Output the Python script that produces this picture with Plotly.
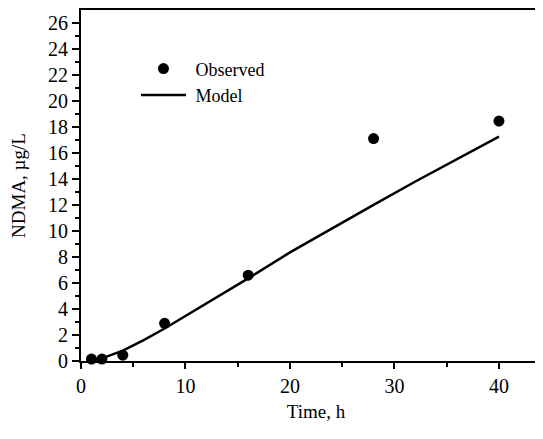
import plotly.graph_objects as go

obs_time = [1, 2, 4, 8, 16, 28, 40]
obs_ndma = [0.15, 0.15, 0.45, 2.9, 6.6, 17.1, 18.45]

model_time = [1, 2, 4, 6, 8, 10, 12, 14, 16, 20, 24, 28, 32, 36, 40]
model_ndma = [0.05, 0.2, 0.8, 1.6, 2.5, 3.45, 4.4, 5.35, 6.35, 8.35, 10.2, 12.0, 13.8, 15.5, 17.25]

y_ticks = list(range(0, 27, 2))
x_ticks = [0, 10, 20, 30, 40]

FONT = "Liberation Serif"

fig = go.Figure()
fig.add_trace(go.Scatter(
    x=obs_time, y=obs_ndma, mode="markers", name="\u00a0Observed",
    marker=dict(color="black", size=11), cliponaxis=False,
))
fig.add_trace(go.Scatter(
    x=model_time, y=model_ndma, mode="lines", name="\u00a0Model",
    line=dict(color="black", width=2.5), cliponaxis=False,
))

fig.update_layout(
    width=543, height=439,
    margin=dict(l=73, r=0, t=0, b=86),
    paper_bgcolor="white", plot_bgcolor="white",
    font=dict(family=FONT, color="black", size=19),
    showlegend=True,
    legend=dict(
        x=0.117, y=0.885, xanchor="left", yanchor="top",
        bgcolor="rgba(0,0,0,0)", font=dict(family=FONT, size=18),
        itemwidth=45, tracegroupgap=0,
    ),
    xaxis=dict(
        range=[0, 44.98], tickvals=x_ticks, showgrid=False, zeroline=False,
        showline=True, linecolor="black", linewidth=2, mirror=True,
        ticks="outside", ticklen=6, tickwidth=2, tickcolor="black",
        tickfont=dict(family=FONT, size=20),
        minor=dict(dtick=5, tick0=0, ticks="outside", ticklen=4, tickwidth=2, tickcolor="black"),
        title=dict(text="Time, h", font=dict(family=FONT, size=19), standoff=9),
    ),
    yaxis=dict(
        range=[0, 26.99], tickvals=y_ticks, showgrid=False, zeroline=False,
        showline=True, linecolor="black", linewidth=2,
        ticks="outside", ticklen=7, tickwidth=2, tickcolor="black",
        tickfont=dict(family=FONT, size=20),
        minor=dict(dtick=1, tick0=0, ticks="outside", ticklen=4, tickwidth=2, tickcolor="black"),
        title=dict(text="NDMA, µg/L", font=dict(family=FONT, size=19), standoff=17),
    ),
)

fig.write_html("out.html")
